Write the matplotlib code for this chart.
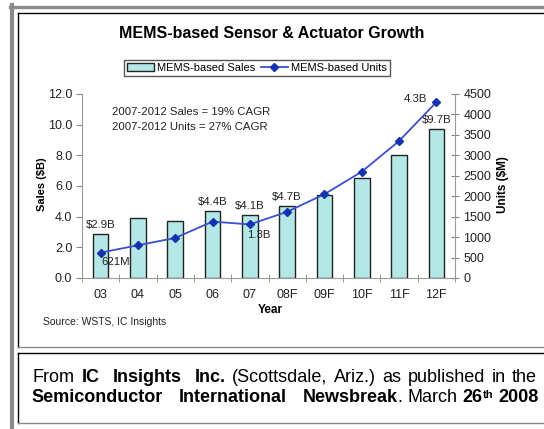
import matplotlib
matplotlib.use('Agg')
import matplotlib.pyplot as plt
from matplotlib.lines import Line2D
import numpy as np

# data
years = ['03', '04', '05', '06', '07', '08F', '09F', '10F', '11F', '12F']
sales = [2.9, 3.9, 3.7, 4.4, 4.1, 4.7, 5.4, 6.5, 8.0, 9.7]          # $B
units = [621, 800, 980, 1380, 1310, 1620, 2050, 2600, 3350, 4300]   # M units
sales_labeled = [0, 3, 4, 5, 9]
units_labels = {0: '621M', 4: '1.3B', 9: '4.3B'}
cagr_text = ['2007-2012 Sales = 19% CAGR', '2007-2012 Units = 27% CAGR']

FONT = 'Liberation Sans'
plt.rcParams['font.family'] = FONT

W, H = 544, 429
fig = plt.figure(figsize=(W / 100, H / 100), dpi=100)


def fx(x):
    return x / W


def fy(y):
    return 1 - y / H


# ---------------- frame lines ----------------
def hline(y, x0, x1, color, lw):
    fig.add_artist(Line2D([fx(x0), fx(x1)], [fy(y), fy(y)], color=color, lw=lw,
                          transform=fig.transFigure))


def vline(x, y0, y1, color, lw):
    fig.add_artist(Line2D([fx(x), fx(x)], [fy(y0), fy(y1)], color=color, lw=lw,
                          transform=fig.transFigure))


hline(6.5, 10, 544, '#8a8a8a', 2.4)
vline(12, 5, 429, '#8a8a8a', 3.0)
hline(13, 18, 544, 'black', 1.0)
vline(18, 13, 347, 'black', 1.0)
hline(347, 18, 544, '#888888', 1.0)
hline(353, 18, 544, 'black', 1.0)
vline(18, 353, 423, 'black', 1.0)
hline(423, 18, 544, '#888888', 1.0)

# ---------------- chart ----------------
ax = fig.add_axes([fx(82), fy(278), fx(455) - fx(82), fy(94) - fy(278)])
x = np.arange(len(years))
bars = ax.bar(x, sales, width=0.42, color='#b4e8e6', edgecolor='#222222',
              linewidth=1.0, label='MEMS-based Sales', zorder=2)
ax.set_xlim(-0.5, len(years) - 0.5)
ax.set_ylim(0, 12)
ax.set_yticks(np.arange(0, 12.1, 2))
ax.set_yticklabels([f'{v:.1f}' for v in np.arange(0, 12.1, 2)])
ax.set_xticks(x)
ax.set_xticklabels(years)
ax.set_xticks(np.arange(-0.5, len(years), 1), minor=True)
ax.tick_params(axis='x', which='major', length=0, pad=8, labelsize=9, labelcolor='#222')
ax.tick_params(axis='x', which='minor', direction='inout', length=6, color='#888')
ax.tick_params(axis='y', direction='out', length=4, color='#888', labelsize=9,
               labelcolor='#222', pad=3)
for s in ['top', 'right']:
    ax.spines[s].set_visible(False)
for s in ['left', 'bottom']:
    ax.spines[s].set_color('#999999')

for i in sales_labeled:
    ax.annotate(f'${sales[i]}B', (x[i], sales[i]), xytext=(0, 6.5),
                textcoords='offset points', ha='center', va='center',
                fontsize=8.2, color='#222', zorder=5)

for k, t in enumerate(cagr_text):
    ax.text(fx(112), fy(112 + 15 * k), t, transform=fig.transFigure,
            fontsize=8.2, color='#222', va='center')

ax2 = ax.twinx()
line, = ax2.plot(x, units, color='#3a50cc', lw=1.3, marker='D', markersize=4,
                 markerfacecolor='#1632b0', markeredgecolor='#1632b0',
                 label='MEMS-based Units', zorder=4)
ax2.set_ylim(0, 4500)
ax2.set_yticks(np.arange(0, 4501, 500))
ax2.tick_params(axis='y', direction='inout', length=6, color='#888', labelsize=9,
                labelcolor='#222', pad=3)
for s in ['top', 'left', 'bottom']:
    ax2.spines[s].set_visible(False)
ax2.spines['right'].set_color('#999999')

offsets = {0: (11, -6.5), 4: (6.5, -7.5), 9: (-15, 2.5)}
for i, t in units_labels.items():
    ax2.annotate(t, (x[i], units[i]), xytext=offsets[i], textcoords='offset points',
                 ha='center', va='center', fontsize=8.2, color='#222')

# texts around the chart
fig.text(fx(272), fy(34), 'MEMS-based Sensor & Actuator Growth', ha='center',
         va='center', fontsize=11.5, weight='bold')
fig.text(fx(42), fy(184), 'Sales ($B)', rotation=90, ha='center', va='center',
         fontsize=8, weight='bold')
fig.text(fx(503), fy(185), 'Units ($M)', rotation=90, ha='center', va='center',
         fontsize=8.5, weight='bold')
fig.text(fx(270), fy(310), 'Year', ha='center', va='center', fontsize=8.5, weight='bold')
fig.text(fx(43), fy(322), 'Source: WSTS, IC Insights', ha='left', va='center',
         fontsize=7.5, color='#222')

fig.legend(handles=[bars, line], loc='center', bbox_to_anchor=(fx(257), fy(68)),
           bbox_transform=fig.transFigure, ncol=2, frameon=True, fancybox=False,
           edgecolor='#555', fontsize=8, handlelength=2.4, columnspacing=0.5,
           handletextpad=0.3, borderpad=0.3, framealpha=1)

# ---------------- caption in the lower box (justified lines) ----------------
renderer = fig.canvas.get_renderer()
CAP = 13


def text_w(s, weight, size):
    t = fig.text(0, 0, s, fontsize=size, weight=weight)
    w = t.get_window_extent(renderer).width
    t.remove()
    return w


# (word, weight, size scale, raise in px, spaces after it)
line1 = [('From', 'normal', 1, 0, 1), ('IC', 'bold', 1, 0, 2),
         ('Insights', 'bold', 1, 0, 2), ('Inc.', 'bold', 1, 0, 1),
         ('(Scottsdale,', 'normal', 1, 0, 1), ('Ariz.)', 'normal', 1, 0, 1),
         ('as', 'normal', 1, 0, 1), ('published', 'normal', 1, 0, 1),
         ('in', 'normal', 1, 0, 1), ('the', 'normal', 1, 0, 0)]
line2 = [('Semiconductor', 'bold', 1, 0, 3), ('International', 'bold', 1, 0, 3),
         ('Newsbreak', 'bold', 1, 0, 0), ('.', 'normal', 1, 0, 1),
         ('March', 'normal', 1, 0, 1), ('26', 'bold', 1, 0, 0),
         ('th', 'bold', 0.62, 3.5, 1), ('2008', 'bold', 1, 0, 0)]


def draw_justified(words, x0, x1, y):
    widths = [text_w(w, wt, CAP * sc) for w, wt, sc, dy, n in words]
    n_sp = sum(n for *_, n in words)
    unit = (x1 - x0 - sum(widths)) / n_sp
    xpos = x0
    for (w, wt, sc, dy, n), wd in zip(words, widths):
        fig.text(fx(xpos), fy(y - dy), w, fontsize=CAP * sc, weight=wt,
                 ha='left', va='center')
        xpos += wd + n * unit


draw_justified(line1, 33, 537, 378)
draw_justified(line2, 31, 539, 398)

fig.savefig('out.png', dpi=100)
